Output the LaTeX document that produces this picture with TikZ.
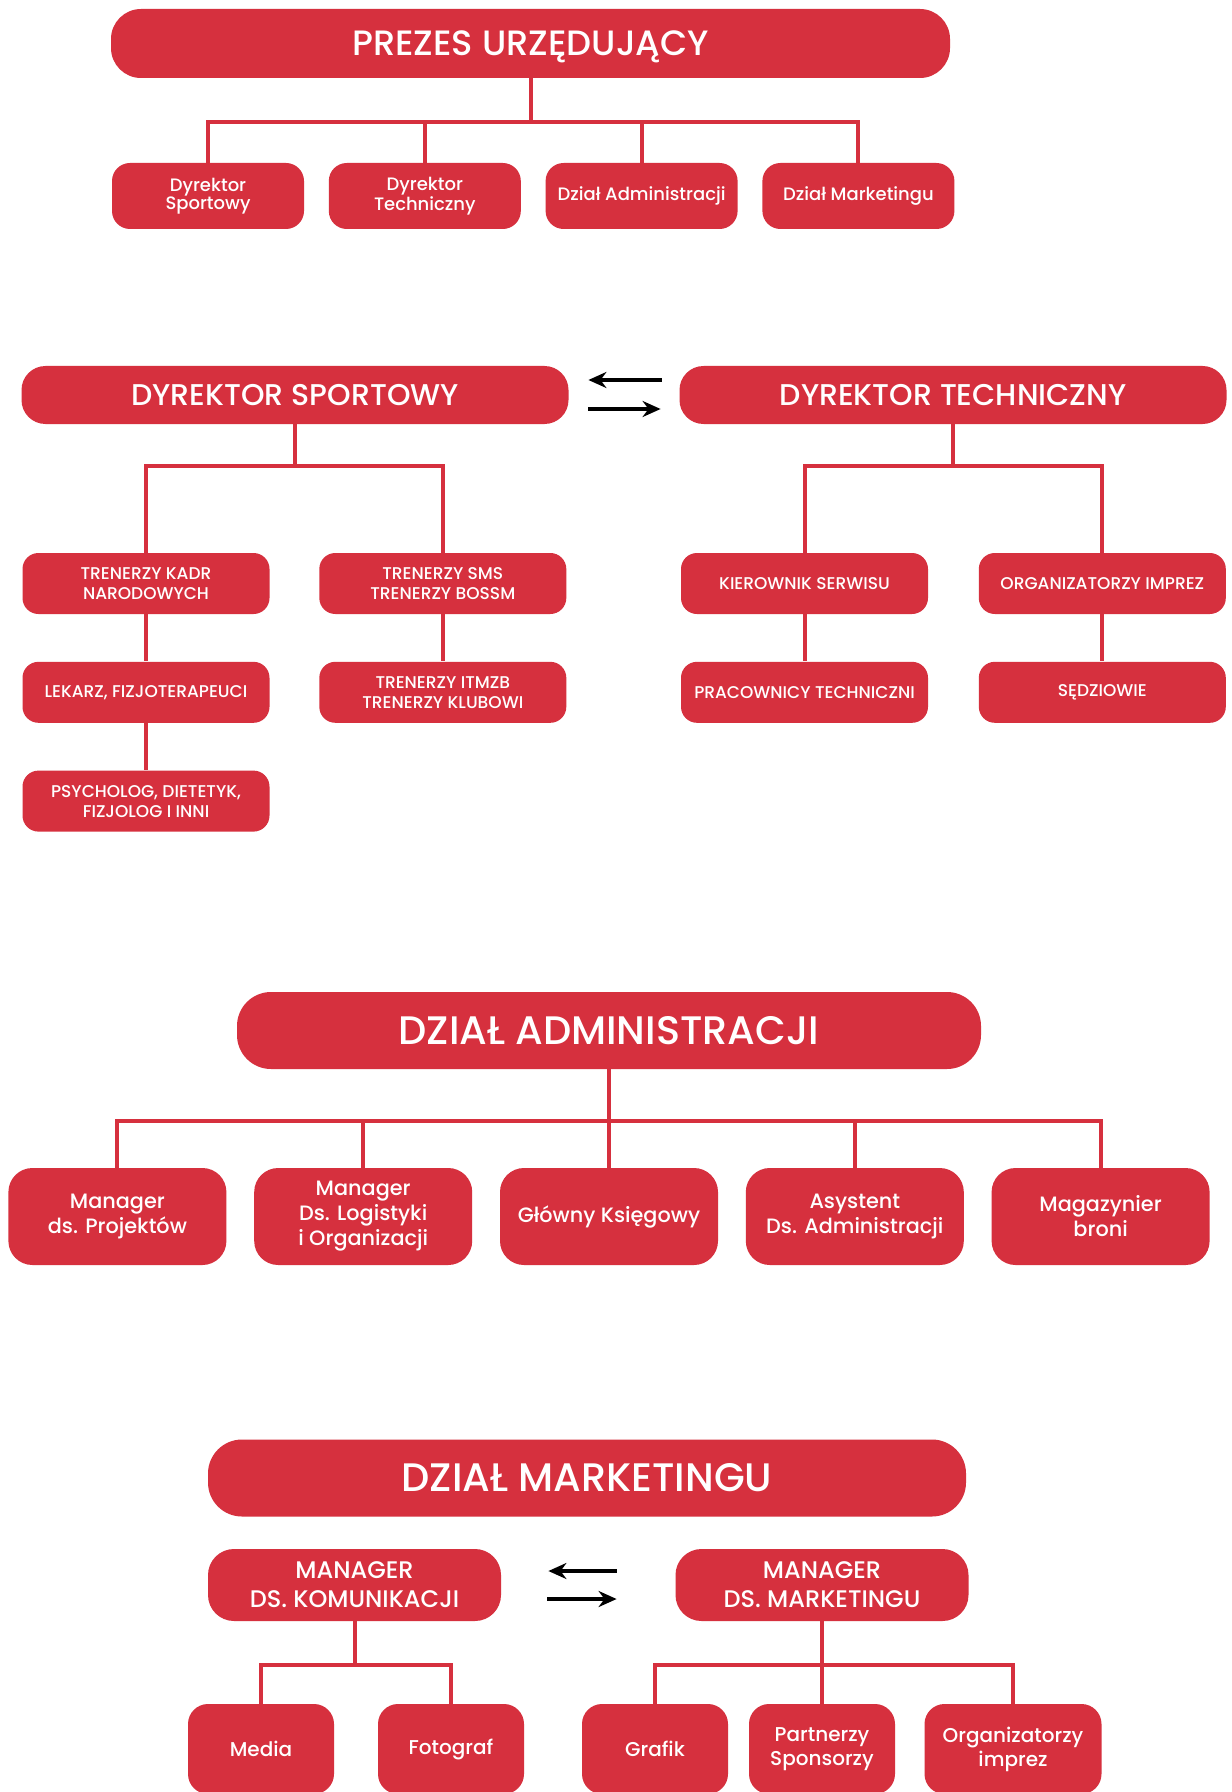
\documentclass[tikz,border=0pt]{standalone}
\usepackage{fontspec}
\setmainfont{Poppins Medium}
\usetikzlibrary{positioning, arrows.meta}
\definecolor{clubred}{RGB}{214,48,62}
\tikzstyle{box} = [rectangle, fill=clubred, text=white, align=center, inner sep=0pt]
\tikzstyle{chief} = [box, minimum width=419.5pt, minimum height=34.5pt, rounded corners=15pt, text depth=0pt, font=\fontsize{17.6}{20}\selectfont]
\tikzstyle{topunit} = [box, minimum width=96pt, minimum height=33pt, rounded corners=9pt, font=\fontsize{9}{9}\selectfont]
\tikzstyle{director} = [box, minimum width=273.5pt, minimum height=29pt, rounded corners=12pt, font=\fontsize{15}{17}\selectfont]
\tikzstyle{staff} = [box, minimum width=123.5pt, minimum height=30.5pt, rounded corners=8pt, font=\fontsize{8.5}{10}\selectfont]
\tikzstyle{dept} = [box, minimum height=38.5pt, rounded corners=17pt, font=\fontsize{19.9}{22}\selectfont]
\tikzstyle{admunit} = [box, minimum width=109pt, minimum height=48.5pt, rounded corners=12pt, font=\fontsize{10.4}{12.5}\selectfont]
\tikzstyle{manager} = [box, minimum width=146.5pt, minimum height=36pt, rounded corners=13pt, font=\fontsize{12}{14.5}\selectfont]
\tikzstyle{mkunit} = [box, minimum width=73pt, minimum height=45pt, rounded corners=10pt, font=\fontsize{10}{12}\selectfont]
\tikzstyle{link} = [draw=clubred, line width=2pt]
\tikzstyle{arrow} = [line width=1.75pt, -{Stealth[length=9pt, width=8pt]}]

\begin{document}
\begin{tikzpicture}[x=0.5pt, y=-0.5pt]
    \path [use as bounding box, fill=white] (0,0) rectangle (1231,1792);

    % prezes
    \node (prezes) [chief] at (530.5,43.5) {PREZES URZĘDUJĄCY};
    \node (ds1) [topunit] at (208,196) {Dyrektor\\Sportowy};
    \node (dt1) [topunit, right=12pt of ds1] {Dyrektor\\Techniczny};
    \node (da1) [topunit, right=12pt of dt1] {Dział Administracji};
    \node (dm1) [topunit, right=12pt of da1] {Dział Marketingu};
    \coordinate (j1) at (530.5,122);
    \draw [link] (prezes) -- (j1);
    \draw [link] (j1) -| (ds1);
    \draw [link] (j1) -| (dt1);
    \draw [link] (j1) -| (da1);
    \draw [link] (j1) -| (dm1);

    % dyrektorzy
    \node (ds) [director] at (295,395) {DYREKTOR SPORTOWY};
    \node (dt) [director] at (953,395) {DYREKTOR TECHNICZNY};
    \draw [arrow, shorten <=8.75pt, shorten >=9.75pt] ([yshift=7.5pt]dt.west) -- ([yshift=7.5pt]ds.east);
    \draw [arrow, shorten <=9.75pt, shorten >=9.25pt] ([yshift=-7pt]ds.east) -- ([yshift=-7pt]dt.west);

    \coordinate (jds) at (295,466);
    \node (kadr) [staff] at (146,583.5) {TRENERZY KADR\\NARODOWYCH};
    \node (sms) [staff, right=24.5pt of kadr] {TRENERZY SMS\\TRENERZY BOSSM};
    \node (lekarz) [staff, below=23.5pt of kadr] {LEKARZ, FIZJOTERAPEUCI};
    \node (itmzb) [staff, below=23.5pt of sms] {TRENERZY ITMZB\\TRENERZY KLUBOWI};
    \node (psych) [staff, below=23.5pt of lekarz] {PSYCHOLOG, DIETETYK,\\FIZJOLOG I INNI};
    \draw [link] (ds) -- (jds);
    \draw [link] (jds) -| (kadr);
    \draw [link] (jds) -| (sms);
    \draw [link] (kadr) -- (lekarz);
    \draw [link] (lekarz) -- (psych);
    \draw [link] (sms) -- (itmzb);

    \coordinate (jdt) at (953,466);
    \node (kier) [staff] at (804.5,583.5) {KIEROWNIK SERWISU};
    \node (org) [staff, right=25pt of kier] {ORGANIZATORZY IMPREZ};
    \node (prac) [staff, below=23.5pt of kier] {PRACOWNICY TECHNICZNI};
    \node (sedz) [staff, below=23.5pt of org] {SĘDZIOWIE};
    \draw [link] (dt) -- (jdt);
    \draw [link] (jdt) -| (kier);
    \draw [link] (jdt) -| (org);
    \draw [link] (kier) -- (prac);
    \draw [link] (org) -- (sedz);

    % administracja
    \node (da) [dept, minimum width=372pt] at (609,1030.5) {DZIAŁ ADMINISTRACJI};
    \coordinate (jda) at (609,1121);
    \node (glowny) [admunit] at (609,1216.5) {Główny Księgowy};
    \node (logist) [admunit, left=13.5pt of glowny] {Manager\\Ds. Logistyki\\i Organizacji};
    \node (projekt) [admunit, left=13.5pt of logist] {Manager\\ds. Projektów};
    \node (asyst) [admunit, right=13.5pt of glowny] {Asystent\\Ds. Administracji};
    \node (magaz) [admunit, right=13.5pt of asyst] {Magazynier\\broni};
    \draw [link] (da) -- (glowny);
    \draw [link] (jda) -| (projekt);
    \draw [link] (jda) -| (logist);
    \draw [link] (jda) -| (asyst);
    \draw [link] (jda) -| (magaz);

    % marketing
    \node (dmk) [dept, minimum width=379pt] at (587,1478) {DZIAŁ MARKETINGU};
    \node (mk) [manager] at (354.5,1585) {MANAGER\\DS. KOMUNIKACJI};
    \node (mm) [manager] at (822,1585) {MANAGER\\DS. MARKETINGU};
    \draw [arrow, shorten <=29.25pt, shorten >=23.5pt] ([yshift=7pt]mm.west) -- ([yshift=7pt]mk.east);
    \draw [arrow, shorten <=23pt, shorten >=29.25pt] ([yshift=-7pt]mk.east) -- ([yshift=-7pt]mm.west);

    \coordinate (jmk) at (354.5,1665);
    \node (media) [mkunit] at (261,1749) {Media};
    \node (foto) [mkunit] at (451,1749) {Fotograf};
    \draw [link] (mk) -- (jmk);
    \draw [link] (jmk) -| (media);
    \draw [link] (jmk) -| (foto);

    \coordinate (jmm) at (822,1665);
    \node (grafik) [mkunit] at (655,1749) {Grafik};
    \node (partner) [mkunit] at (822,1749) {Partnerzy\\Sponsorzy};
    \node (orgimp) [mkunit, minimum width=88.5pt] at (1013,1749) {Organizatorzy\\imprez};
    \draw [link] (mm) -- (partner);
    \draw [link] (jmm) -| (grafik);
    \draw [link] (jmm) -| (orgimp);
\end{tikzpicture}
\end{document}
